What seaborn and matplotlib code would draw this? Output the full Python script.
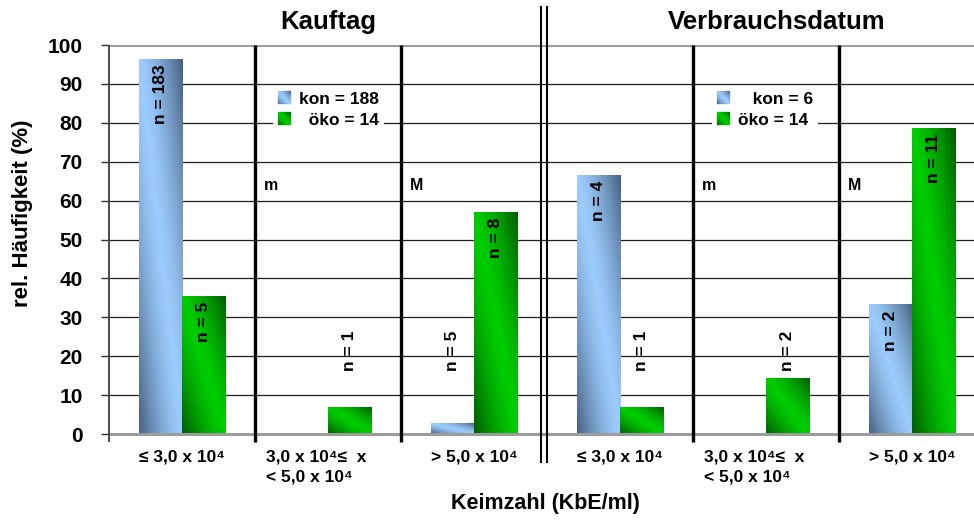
import numpy as np
import pandas as pd
import matplotlib
matplotlib.use("Agg")
import matplotlib.pyplot as plt
import seaborn as sns
from matplotlib.patches import Rectangle
from matplotlib.legend_handler import HandlerBase
from matplotlib.transforms import ScaledTranslation

# --- data ---------------------------------------------------------------
phases = ["Kauftag", "Verbrauchsdatum"]
classes = ["≤ 3,0 x 10⁴", "3,0 x 10⁴≤  x\n< 5,0 x 10⁴", "> 5,0 x 10⁴"]
kon_pct = [96.4, 0.0, 2.7, 66.7, 0.0, 33.3]
oeko_pct = [35.5, 7.0, 57.1, 7.0, 14.3, 78.6]
kon_n = [183, 0, 5, 4, 0, 2]
oeko_n = [5, 1, 8, 1, 2, 11]
kon_total = [188, 6]
oeko_total = [14, 14]
limit_marks = ["m", "M"]
y_ticks = list(range(0, 101, 10))

# --- styling ------------------------------------------------------------
sns.set_theme(style="white")
plt.rcParams["font.family"] = ["Liberation Sans", "DejaVu Sans"]
plt.rcParams["font.weight"] = "bold"
for key in ("text.color", "axes.labelcolor", "xtick.color", "ytick.color"):
    plt.rcParams[key] = "black"

BLUE_LIGHT = np.array([0.61, 0.80, 0.99])
BLUE_DARK = np.array([0.28, 0.38, 0.51])
GREEN_LIGHT = np.array([0.0, 0.80, 0.0])
GREEN_DARK = np.array([0.0, 0.36, 0.0])
SHADES = {"kon": (BLUE_LIGHT, BLUE_DARK), "öko": (GREEN_LIGHT, GREEN_DARK)}


def shade(light, dark, u, v):
    """Diagonal two-tone fill: light along the falling diagonal, dark corners."""
    t = np.clip(np.abs(u + v - 1.0), 0, 1) ** 1.4
    t = np.asarray(t)[..., None]
    return light * (1 - t) + dark * t


class GradientSquare(HandlerBase):
    def __init__(self, light, dark, cells=10):
        super().__init__()
        self.light, self.dark, self.cells = light, dark, cells

    def create_artists(self, legend, orig_handle, xdescent, ydescent,
                       width, height, fontsize, trans):
        side = height
        n = self.cells
        arts = []
        for i in range(n):
            for j in range(n):
                c = shade(self.light, self.dark, (i + 0.5) / n, (j + 0.5) / n)
                r = Rectangle((-xdescent + i * side / n, -ydescent + j * side / n),
                              side / n, side / n, facecolor=c, edgecolor=c,
                              lw=0.2, transform=trans)
                arts.append(r)
        return arts


# --- table for seaborn ----------------------------------------------------
slots = [f"{p}: {c}" for p in phases for c in classes]
df = pd.DataFrame({
    "slot": slots * 2,
    "origin": ["kon"] * len(slots) + ["öko"] * len(slots),
    "pct": kon_pct + oeko_pct,
})

fig = plt.figure(figsize=(9.74, 5.22), dpi=100)
ax = fig.add_axes([109 / 974, 1 - 434 / 522, 876 / 974, 389 / 522])

sns.barplot(data=df, x="slot", y="pct", hue="origin", order=slots,
            hue_order=["kon", "öko"],
            palette={"kon": BLUE_LIGHT, "öko": GREEN_LIGHT},
            width=0.59, saturation=1, errorbar=None, legend=False, ax=ax)

# gradient fill for every bar, clipped to the bar outline
grid_u, grid_v = np.meshgrid(np.linspace(0, 1, 40), np.linspace(0, 1, 160))
for container, origin in zip(ax.containers, ["kon", "öko"]):
    light, dark = SHADES[origin]
    img = shade(light, dark, grid_u, grid_v)
    for bar in container:
        h = bar.get_height()
        bar.set_facecolor("none")
        bar.set_edgecolor("none")
        if h <= 0:
            continue
        x0 = bar.get_x()
        im = ax.imshow(img, origin="lower", aspect="auto",
                       extent=(x0, x0 + bar.get_width(), 0, h), zorder=2,
                       interpolation="bilinear")
        im.set_clip_path(bar)

ax.set_xlim(-0.5, 5.5)
ax.set_ylim(0, 100)

# horizontal grid
for y in y_ticks[1:-1]:
    ax.axhline(y, color="#1e1e1e", lw=0.9, zorder=1)
ax.axhline(100, color="#9c9c9c", lw=2.2, zorder=1)
ax.axhline(0, color="#9c9c9c", lw=2.2, zorder=3, clip_on=False)

# group separators and the divider between the two phases
ax.vlines([0.5, 1.5, 3.5, 4.5], -2, 100, colors="black", lw=2.4,
          zorder=3, clip_on=False)
ax.vlines([2.46, 2.50], -7.5, 110, colors="black", lw=1.5,
          zorder=3, clip_on=False)
ax.vlines([-0.5], -2, 100, colors="#4a4a4a", lw=1.4, zorder=3, clip_on=False)

# n labels on the bars
for container, counts in zip(ax.containers, [kon_n, oeko_n]):
    for bar, n in zip(container, counts):
        if n == 0:
            continue
        h = bar.get_height()
        xc = bar.get_x() + bar.get_width() / 2
        if h >= 25:
            ax.text(xc, h - 1.5, f"n = {n}", rotation=90, ha="center",
                    va="top", fontsize=12.5, fontweight="bold", zorder=4)
        else:
            ax.text(xc, 21.5, f"n = {n}", rotation=90, ha="center",
                    va="center", fontsize=12.5, fontweight="bold", zorder=4)

# limit marks m / M beside the separators
for k in range(len(phases)):
    for j, mark in enumerate(limit_marks):
        ax.text(3 * k + 0.5 + j + 0.06, 64, mark, ha="left", va="center",
                fontsize=11.5, fontweight="bold", zorder=4)

# phase titles
ax.text(1.0, 106, phases[0], ha="center", va="center", fontsize=18.5,
        fontweight="bold", clip_on=False)
ax.text(4.07, 106, phases[1], ha="center", va="center", fontsize=18.5,
        fontweight="bold", clip_on=False)

# axes ticks
for s in ax.spines.values():
    s.set_visible(False)
ax.set_yticks(y_ticks)
ax.set_yticklabels([str(v) for v in y_ticks], fontsize=15, fontweight="bold")
ax.tick_params(axis="y", left=True, length=6, width=1, color="#303030",
               direction="out", pad=13)
ax.set_xticks(range(len(slots)))
ax.set_xticklabels(classes * 2, fontsize=12.5, fontweight="bold",
                   multialignment="left", linespacing=1.4)
ax.tick_params(axis="x", length=0, pad=11)
# the two-line middle labels sit a little left of their group centre
shift = ScaledTranslation(-12 / 100, 0, fig.dpi_scale_trans)
for lab in ax.get_xticklabels():
    if "\n" in lab.get_text():
        lab.set_transform(lab.get_transform() + shift)
ax.set_xlabel("")
ax.set_ylabel("")

fig.text(0.023, 1 - 213 / 522, "rel. Häufigkeit (%)", rotation=90,
         ha="center", va="center", fontsize=16, fontweight="bold")
fig.text(545 / 974, 1 - 503 / 522, "Keimzahl (KbE/ml)", ha="center",
         va="center", fontsize=15.5, fontweight="bold")

# legends, one per phase
handles = [Rectangle((0, 0), 1, 1), Rectangle((0, 1), 1, 1)]
handler_map = {handles[0]: GradientSquare(BLUE_LIGHT, BLUE_DARK),
               handles[1]: GradientSquare(GREEN_LIGHT, GREEN_DARK)}
legend_kw = dict(loc="upper left", frameon=True, facecolor="white",
                 edgecolor="none", framealpha=1,
                 handlelength=0.8, handleheight=0.8, handletextpad=0.4,
                 labelspacing=0.3, borderpad=0.3, borderaxespad=0,
                 handler_map=handler_map, prop={"weight": "bold", "size": 12.5})
leg1 = ax.legend(handles, [f"kon = {kon_total[0]}", f"  öko = {oeko_total[0]}"],
                 bbox_to_anchor=(0.62, 89.5), bbox_transform=ax.transData,
                 **legend_kw)
leg1.set_zorder(5)
ax.add_artist(leg1)
leg2 = ax.legend(handles, [f"   kon = {kon_total[1]}", f"öko = {oeko_total[1]}"],
                 bbox_to_anchor=(3.63, 89.5), bbox_transform=ax.transData,
                 **legend_kw)
leg2.set_zorder(5)

fig.savefig("out.png", dpi=100)
